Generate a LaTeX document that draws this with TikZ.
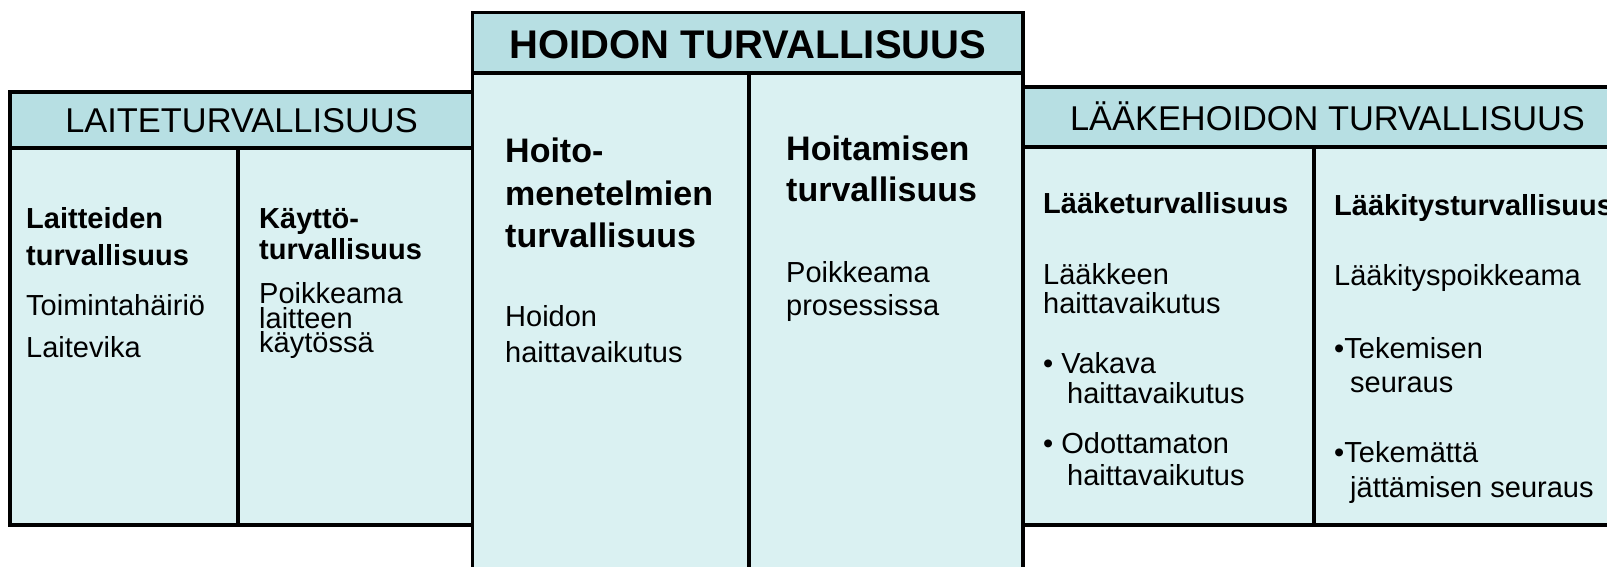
\documentclass[tikz,border=0pt]{standalone}
\usepackage{fontspec}
\setmainfont{Liberation Sans}
\definecolor{hdr}{RGB}{183,223,227}
\definecolor{bodyc}{RGB}{218,241,242}
\tikzset{
 frame/.style={draw=black, line width=3.5pt},
 hdrtxt/.style={font=\fontsize{34.4}{40}\selectfont, inner sep=0pt, anchor=base},
 bighdr/.style={font=\fontsize{40}{46}\selectfont\bfseries, inner sep=0pt, anchor=base},
 bigbold/.style={font=\fontsize{34}{40}\selectfont\bfseries, anchor=base west, inner sep=0pt},
 boldt/.style={font=\fontsize{29}{34}\selectfont\bfseries, anchor=base west, inner sep=0pt},
 txt/.style={font=\fontsize{29}{34}\selectfont, anchor=base west, inner sep=0pt},
}
\begin{document}
\begin{tikzpicture}[x=1pt,y=-1pt]
\useasboundingbox (0,0) rectangle (1607,566);
\clip (0,0) rectangle (1607,566);
% left box
\fill[bodyc] (10,92) rectangle (473,525);
\fill[hdr] (10,92) rectangle (473,148);
\draw[frame] (10,92) rectangle (473,525);
\draw[frame] (10,148) -- (473,148);
\draw[frame] (238,148) -- (238,525);
% right box
\fill[bodyc] (1023,87) rectangle (1632,525);
\fill[hdr] (1023,87) rectangle (1632,147);
\draw[frame] (1023,87) rectangle (1632,525);
\draw[frame] (1023,147) -- (1632,147);
\draw[frame] (1314,147) -- (1314,525);
% middle box
\fill[bodyc] (472.5,12.5) rectangle (1023,600);
\fill[hdr] (472.5,12.5) rectangle (1023,73);
\draw[frame] (472.5,12.5) rectangle (1023,600);
\draw[frame] (472.5,73) -- (1023,73);
\draw[frame] (749,73) -- (749,600);
% headers
\node[hdrtxt] (lhdr) at (241.5,132.7) {LAITETURVALLISUUS};
\node[bighdr] (mhdr) at (748,58) {HOIDON TURVALLISUUS};
\node[hdrtxt] (rhdr) at (1327.5,130) {LÄÄKEHOIDON TURVALLISUUS};
% left box texts
\node[boldt] (lc1) at (26,228) {Laitteiden};
\node[boldt] (lc2) at (26,265) {turvallisuus};
\node[txt] (lc3) at (26,315) {Toimintahäiriö};
\node[txt] (lc4) at (26,357) {Laitevika};
\node[boldt] (ld1) at (259,228) {Käyttö-};
\node[boldt] (ld2) at (259,259) {turvallisuus};
\node[txt] (ld3) at (259,303) {Poikkeama};
\node[txt] (ld4) at (259,328) {laitteen};
\node[txt] (ld5) at (259,352) {käytössä};
% middle texts
\node[bigbold] (ma1) at (505,162) {Hoito-};
\node[bigbold] (ma2) at (505,205) {menetelmien};
\node[bigbold] (ma3) at (505,247) {turvallisuus};
\node[txt] (ma4) at (505,326) {Hoidon};
\node[txt] (ma5) at (505,362) {haittavaikutus};
\node[bigbold] (mb1) at (786,160) {Hoitamisen};
\node[bigbold] (mb2) at (786,201) {turvallisuus};
\node[txt] (mb3) at (786,282) {Poikkeama};
\node[txt] (mb4) at (786,315) {prosessissa};
% right box texts
\node[boldt] (ra1) at (1043,213) {Lääketurvallisuus};
\node[txt] (ra2) at (1043,284) {Lääkkeen};
\node[txt] (ra3) at (1043,313) {haittavaikutus};
\node[txt] (ra4) at (1043,373) {• Vakava};
\node[txt] (ra5) at (1067,403) {haittavaikutus};
\node[txt] (ra6) at (1043,453) {• Odottamaton};
\node[txt] (ra7) at (1067,485) {haittavaikutus};
\node[boldt] (rb1) at (1334,215) {Lääkitysturvallisuus};
\node[txt] (rb2) at (1334,285) {Lääkityspoikkeama};
\node[txt] (rb3) at (1334,358) {•Tekemisen};
\node[txt] (rb4) at (1350,392) {seuraus};
\node[txt] (rb5) at (1334,462) {•Tekemättä};
\node[txt] (rb6) at (1350,497) {jättämisen seuraus};
\end{tikzpicture}
\end{document}
